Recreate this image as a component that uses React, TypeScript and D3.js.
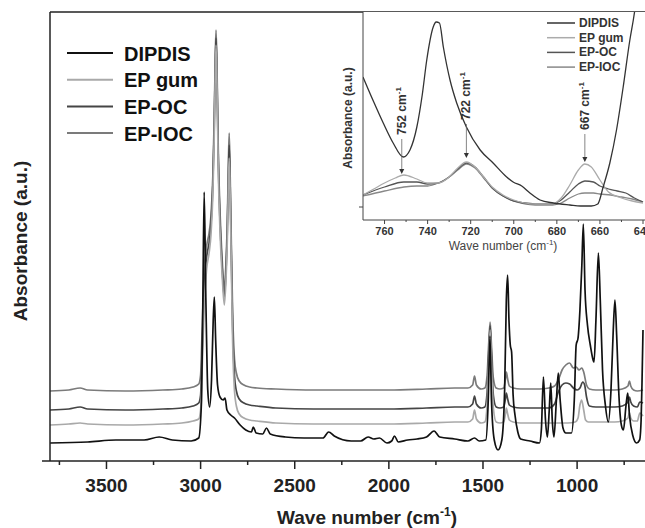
import React from "react";
import * as d3 from "d3";

type Pt = [number, number];

// legend / series names
const seriesNames = ["DIPDIS", "EP gum", "EP-OC", "EP-IOC"];

// main FTIR spectra: [wave number cm-1, absorbance (a.u., traces offset)]
const dipdisMain: Pt[] = [
  [3800, 18], [3600, 19], [3450, 21], [3300, 21], [3220, 24], [3150, 21], [3050, 20], [3010, 23],
  [2995, 61], [2988, 161], [2981, 269], [2972, 161], [2962, 71], [2952, 54], [2942, 81], [2933, 141],
  [2927, 164], [2920, 121], [2910, 76], [2897, 64], [2880, 61], [2870, 63], [2860, 51], [2840, 46],
  [2820, 43], [2790, 36], [2760, 31], [2730, 29], [2720, 34], [2705, 28], [2670, 27], [2650, 33],
  [2630, 27], [2550, 24], [2450, 23], [2350, 23], [2320, 29], [2290, 25], [2200, 20], [2150, 20],
  [2110, 24], [2080, 22], [2050, 23], [2010, 18], [1985, 20], [1970, 25], [1950, 19], [1900, 21],
  [1850, 22], [1800, 24], [1760, 30], [1730, 24], [1650, 22], [1580, 20], [1545, 23], [1520, 20],
  [1485, 21], [1472, 61], [1463, 125], [1455, 61], [1440, 21], [1420, 11], [1400, 21], [1385, 71],
  [1376, 161], [1369, 186], [1362, 141], [1355, 116], [1348, 109], [1340, 66], [1330, 46], [1315, 29],
  [1300, 22], [1250, 20], [1200, 18], [1190, 31], [1179, 84], [1168, 41], [1158, 24], [1148, 51],
  [1140, 78], [1132, 41], [1123, 24], [1110, 61], [1100, 88], [1090, 61], [1075, 33], [1060, 28],
  [1030, 28], [1015, 61], [1005, 116], [995, 123], [985, 151], [975, 195], [967, 237], [958, 171],
  [945, 136], [930, 116], [915, 101], [910, 99], [900, 141], [887, 208], [877, 161], [865, 91],
  [850, 56], [834, 39], [820, 71], [808, 131], [799, 161], [790, 126], [778, 66], [765, 36],
  [754, 31], [740, 56], [731, 68], [722, 46], [705, 26], [684, 18], [668, 21], [660, 41],
  [655, 81], [650, 131],
];

const epGumMain: Pt[] = [
  [3800, 36], [3700, 37], [3640, 38], [3600, 37], [3400, 36], [3200, 37], [3100, 38], [3040, 40],
  [3010, 42], [3000, 51], [2992, 90], [2982, 150], [2968, 192], [2955, 208], [2945, 226], [2935, 266],
  [2928, 320], [2922, 388], [2918, 416], [2913, 376], [2906, 290], [2896, 226], [2885, 184], [2874, 156],
  [2866, 178], [2858, 222], [2852, 280], [2848, 303], [2843, 266], [2838, 210], [2830, 120], [2820, 70],
  [2810, 55], [2795, 47], [2770, 43], [2740, 41], [2700, 40], [2600, 38], [2400, 37], [2200, 37],
  [2000, 37], [1800, 38], [1650, 39], [1580, 39], [1555, 42], [1545, 51], [1535, 42], [1510, 38],
  [1490, 39], [1478, 56], [1470, 96], [1462, 131], [1455, 96], [1445, 53], [1430, 39], [1410, 38],
  [1390, 39], [1380, 48], [1376, 53], [1370, 48], [1360, 41], [1340, 39], [1300, 38], [1200, 38],
  [1100, 38], [1050, 38], [1010, 39], [995, 43], [985, 56], [976, 61], [965, 51], [955, 41],
  [940, 39], [900, 39], [850, 39], [800, 39], [760, 40], [730, 43], [722, 48], [715, 43],
  [700, 40], [680, 40], [667, 48], [650, 45],
];

const epOcMain: Pt[] = [
  [3800, 51], [3700, 52], [3640, 54], [3600, 52], [3400, 51], [3200, 52], [3100, 53], [3040, 55],
  [3010, 58], [3000, 66], [2992, 110], [2982, 170], [2968, 204], [2955, 218], [2945, 236], [2935, 276],
  [2928, 330], [2922, 397], [2918, 423], [2913, 385], [2906, 300], [2896, 235], [2885, 192], [2874, 163],
  [2866, 186], [2858, 232], [2852, 290], [2848, 316], [2843, 276], [2838, 220], [2830, 135], [2820, 85],
  [2810, 70], [2795, 62], [2770, 58], [2740, 56], [2700, 55], [2600, 53], [2400, 52], [2200, 52],
  [2000, 52], [1800, 53], [1650, 54], [1580, 54], [1555, 57], [1545, 65], [1535, 57], [1510, 53],
  [1490, 54], [1478, 69], [1470, 106], [1462, 135], [1455, 106], [1445, 66], [1430, 54], [1410, 53],
  [1390, 54], [1380, 63], [1376, 68], [1370, 63], [1360, 56], [1340, 54], [1300, 53], [1200, 53],
  [1150, 53], [1120, 57], [1100, 69], [1080, 76], [1060, 78], [1040, 77], [1020, 73], [1000, 71],
  [985, 73], [970, 79], [960, 76], [950, 64], [935, 55], [900, 54], [850, 54], [800, 54],
  [760, 55], [730, 59], [722, 64], [715, 59], [700, 55], [680, 54], [667, 59], [650, 58],
];

const epIocMain: Pt[] = [
  [3800, 70], [3700, 71], [3640, 73], [3600, 71], [3400, 70], [3200, 71], [3100, 72], [3040, 74],
  [3010, 77], [3000, 86], [2992, 130], [2982, 185], [2968, 215], [2955, 228], [2945, 245], [2935, 285],
  [2928, 340], [2922, 405], [2918, 431], [2913, 395], [2906, 310], [2896, 245], [2885, 200], [2874, 171],
  [2866, 195], [2858, 241], [2852, 301], [2848, 328], [2843, 286], [2838, 231], [2830, 150], [2820, 102],
  [2810, 88], [2795, 80], [2770, 76], [2740, 74], [2700, 73], [2600, 72], [2400, 71], [2200, 71],
  [2000, 71], [1800, 72], [1650, 73], [1580, 73], [1555, 76], [1545, 85], [1535, 76], [1510, 72],
  [1490, 73], [1478, 86], [1470, 116], [1462, 139], [1455, 116], [1445, 83], [1430, 73], [1410, 72],
  [1390, 73], [1380, 83], [1376, 89], [1370, 83], [1360, 75], [1340, 73], [1300, 72], [1200, 72],
  [1150, 73], [1120, 75], [1100, 81], [1080, 91], [1060, 96], [1040, 98], [1020, 93], [1005, 94],
  [990, 91], [975, 93], [965, 89], [950, 76], [935, 72], [900, 71], [850, 71], [800, 71],
  [760, 72], [730, 75], [722, 80], [715, 75], [700, 71], [680, 70], [650, 71],
];

// inset 770-640 cm-1
const dipdisInset: Pt[] = [
  [770, 130], [765, 105], [760.6, 84], [756, 64], [751.3, 50], [748.2, 57], [745, 80], [742.5, 112],
  [740.4, 147], [737.4, 180], [736, 185], [734.5, 184], [732.7, 160], [729.6, 127], [726.5, 104],
  [722, 80], [715.6, 57], [709.6, 44], [703.3, 30], [700.3, 25], [696.3, 21], [692.5, 14], [687.8, 7],
  [681.6, 4], [673.9, 2], [669, 1], [664, 1], [661, 3], [658.5, 20], [655.4, 44], [652.3, 77],
  [649.2, 120], [646.1, 167], [644.5, 187], [642.5, 215],
];
const epGumInset: Pt[] = [
  [770, 12], [765, 18], [760, 24], [755, 29], [751, 32], [745, 28], [740, 24], [735, 24], [730, 30],
  [726, 39], [722, 45], [718, 40], [714, 30], [710, 20], [705, 12], [700, 7], [690, 3], [682, 3],
  [678, 9], [674, 22], [670, 37], [667, 43], [664, 40], [660, 27], [656, 15], [650, 9], [645, 6], [640, 4],
];
const epOcInset: Pt[] = [
  [770, 12], [760, 20], [751, 25], [745, 25], [740, 23], [735, 24], [730, 30], [726, 38], [722, 44],
  [718, 40], [714, 30], [710, 19], [705, 11], [700, 6], [690, 3], [682, 3], [678, 7], [674, 15],
  [670, 23], [667, 26], [663, 25], [660, 21], [656, 18], [652, 16], [648, 14], [644, 9], [640, 5],
];
const epIocInset: Pt[] = [
  [770, 11], [760, 16], [751, 20], [745, 21], [740, 21], [735, 24], [730, 30], [726, 37], [722, 43],
  [718, 39], [714, 29], [710, 19], [705, 11], [700, 6], [690, 2], [682, 2], [678, 4], [674, 9],
  [670, 13], [667, 14], [663, 14], [660, 13], [655, 12], [650, 10], [645, 8], [640, 5],
];

const mainTicks = [3500, 3000, 2500, 2000, 1500, 1000];
const mainMinorTicks = [3750, 3250, 2750, 2250, 1750, 1250, 750];
const insetTicks = [760, 740, 720, 700, 680, 660, 640];
const insetMinorTicks = [750, 730, 710, 690, 670, 650];

// annotated bands in the inset
const peakMarks = [752, 722, 667];
const peakTextFrom = [72, 87, 77];
const peakArrowTip = [33, 49, 45];

const mainColors = ["#111", "#a9a9a9", "#454545", "#7b7b7b"];
const insetColors = ["#333", "#ababab", "#555", "#888"];

const font = "'Liberation Sans', Arial, Helvetica, sans-serif";

export default function App() {
  const W = 645;
  const H = 528;
  const x = d3.scaleLinear().domain([3800, 650]).range([50, 643]);
  const y = d3.scaleLinear().domain([0, 449]).range([461, 12]);
  const xi = d3.scaleLinear().domain([770, 640]).range([363, 643]);
  const yi = d3.scaleLinear().domain([-13, 195]).range([220, 12]);

  const line = d3.line<Pt>().x((d) => x(d[0])).y((d) => y(d[1])).curve(d3.curveMonotoneX);
  const lineI = d3.line<Pt>().x((d) => xi(d[0])).y((d) => yi(d[1])).curve(d3.curveMonotoneX);

  const mainSeries = [dipdisMain, epGumMain, epOcMain, epIocMain];
  const insetSeries = [dipdisInset, epGumInset, epOcInset, epIocInset];
  const drawOrder = [3, 2, 1, 0];

  return (
    <div style={{ position: "absolute", left: 0, top: 0 }}>
      <svg width={W} height={H} style={{ display: "block", background: "#fff" }} fontFamily={font}>
        <defs>
          <clipPath id="mainClip">
            <rect x={50} y={12} width={595} height={449} />
          </clipPath>
          <clipPath id="insetClip">
            <rect x={363} y={12} width={282} height={208} />
          </clipPath>
        </defs>

        {/* main traces */}
        <g clipPath="url(#mainClip)" fill="none">
          {drawOrder.map((i) => (
            <path key={i} d={line(mainSeries[i]) || ""} stroke={mainColors[i]} strokeWidth={1.7} strokeLinejoin="round" />
          ))}
        </g>

        {/* main frame + axis */}
        <g stroke="#222" strokeWidth={1.5}>
          <line x1={50} x2={50} y1={12} y2={461} />
          <line x1={50} x2={645} y1={12} y2={12} />
          <line x1={42} x2={645} y1={461} y2={461} />
          {mainTicks.map((t) => (
            <line key={t} x1={x(t)} x2={x(t)} y1={461} y2={469} />
          ))}
          {mainMinorTicks.map((t) => (
            <line key={t} x1={x(t)} x2={x(t)} y1={461} y2={465} />
          ))}
        </g>
        {mainTicks.map((t) => (
          <text key={t} x={x(t)} y={492} textAnchor="middle" fontSize={19} fontWeight="bold" fill="#222">
            {t}
          </text>
        ))}
        <text x={367} y={524} textAnchor="middle" fontSize={19} fontWeight="bold" fill="#222">
          Wave number (cm<tspan dy={-8} fontSize={12}>-1</tspan>
          <tspan dy={8}>)</tspan>
        </text>
        <text
          transform="translate(27,241) rotate(-90)"
          textAnchor="middle"
          fontSize={19}
          fontWeight="bold"
          fill="#222"
        >
          Absorbance (a.u.)
        </text>

        {/* main legend */}
        {seriesNames.map((n, i) => (
          <g key={n} transform={`translate(0,${53 + i * 26.7})`}>
            <line x1={67} x2={113} stroke={mainColors[i]} strokeWidth={2} />
            <text x={124} y={7.5} fontSize={20} fontWeight="bold" fill="#111">
              {n}
            </text>
          </g>
        ))}

        {/* inset */}
        <rect x={363} y={12} width={282} height={208} fill="#fff" />
        <g clipPath="url(#insetClip)" fill="none">
          {drawOrder.map((i) => (
            <path key={i} d={lineI(insetSeries[i]) || ""} stroke={insetColors[i]} strokeWidth={1.3} />
          ))}
        </g>
        <g stroke="#444" strokeWidth={1}>
          <line x1={363} x2={363} y1={12} y2={220} />
          <line x1={363} x2={645} y1={220} y2={220} />
          <line x1={359} x2={363} y1={yi(0)} y2={yi(0)} />
          {insetTicks.map((t) => (
            <line key={t} x1={xi(t)} x2={xi(t)} y1={220} y2={224} />
          ))}
          {insetMinorTicks.map((t) => (
            <line key={t} x1={xi(t)} x2={xi(t)} y1={220} y2={222} />
          ))}
        </g>
        {insetTicks.map((t) => (
          <text key={t} x={xi(t)} y={235} textAnchor="middle" fontSize={11} fontWeight="bold" fill="#333">
            {t}
          </text>
        ))}
        <text x={503} y={250} textAnchor="middle" fontSize={12} fill="#444">
          Wave number (cm<tspan dy={-5} fontSize={8}>-1</tspan>
          <tspan dy={5}>)</tspan>
        </text>
        <text transform="translate(352,118) rotate(-90)" textAnchor="middle" fontSize={12} fontWeight="bold" fill="#333">
          Absorbance (a.u.)
        </text>

        {/* inset legend */}
        {seriesNames.map((n, i) => (
          <g key={n} transform={`translate(0,${23 + i * 14.7})`}>
            <line x1={547} x2={575} stroke={insetColors[i]} strokeWidth={1.5} />
            <text x={579} y={4} fontSize={12} fontWeight="bold" fill="#333">
              {n}
            </text>
          </g>
        ))}

        {/* band annotations */}
        {peakMarks.map((p, i) => {
          const px = xi(p);
          const textY = yi(peakTextFrom[i]);
          const tipY = yi(peakArrowTip[i]);
          return (
            <g key={p}>
              <text
                transform={`translate(${px + 4},${textY}) rotate(-90)`}
                fontSize={12}
                fontWeight="bold"
                fill="#333"
              >
                {p} cm<tspan dy={-5} fontSize={8}>-1</tspan>
              </text>
              <line x1={px} x2={px} y1={textY + 4} y2={tipY - 4} stroke="#666" strokeWidth={0.8} />
              <path d={`M${px - 2.5},${tipY - 5}L${px + 2.5},${tipY - 5}L${px},${tipY}Z`} fill="#333" />
            </g>
          );
        })}
      </svg>
    </div>
  );
}
